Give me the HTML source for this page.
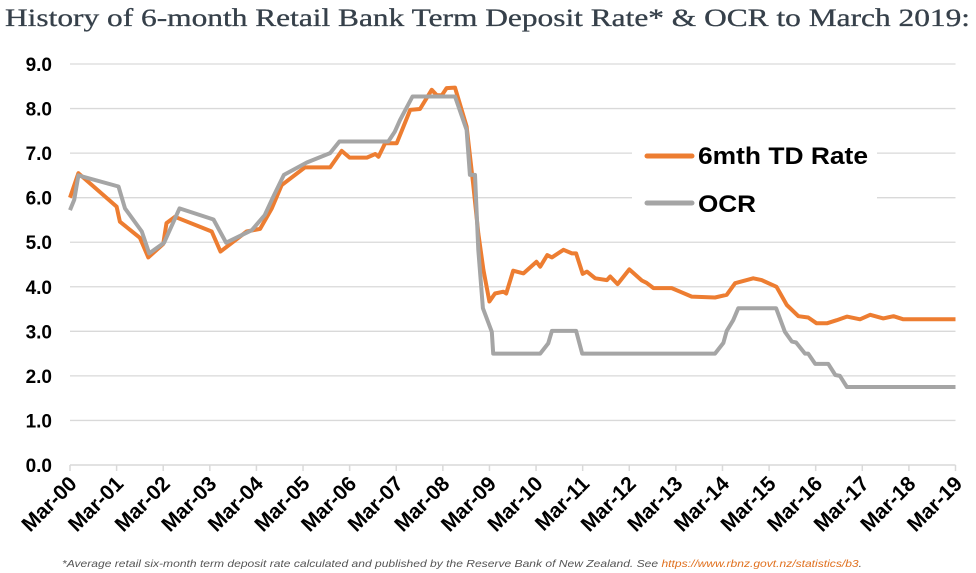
<!DOCTYPE html>
<html><head><meta charset="utf-8"><style>
html,body{margin:0;padding:0;background:#fff;}
svg{display:block;}
</style></head><body>
<svg id="chart" width="976" height="573" viewBox="0 0 976 573" xmlns="http://www.w3.org/2000/svg">
<text x="5" y="26" font-family="'Liberation Serif', serif" font-size="25" fill="#36404a" textLength="965" lengthAdjust="spacingAndGlyphs" stroke="#36404a" stroke-width="0.3">History of 6-month Retail Bank Term Deposit Rate* &amp; OCR to March 2019:</text>
<g id="grid"></g>
<g id="yaxis"></g>
<g id="xaxis"></g>
<g id="series"></g>
<g>
<rect x="632" y="130" width="245" height="92" fill="#fff"/>
<line x1="647" y1="156" x2="692" y2="156" stroke="#ed7d31" stroke-width="5" stroke-linecap="round"/>
<text x="698" y="164" font-family="'Liberation Sans', sans-serif" font-weight="bold" font-size="24" fill="#000" textLength="170" lengthAdjust="spacingAndGlyphs">6mth TD Rate</text>
<line x1="647" y1="203" x2="692" y2="203" stroke="#a5a5a5" stroke-width="5" stroke-linecap="round"/>
<text x="698" y="212" font-family="'Liberation Sans', sans-serif" font-weight="bold" font-size="24" fill="#000" textLength="58" lengthAdjust="spacingAndGlyphs">OCR</text>
</g>
<text x="62" y="567" font-family="'Liberation Sans', sans-serif" font-style="italic" font-size="10.5" fill="#555" textLength="800" lengthAdjust="spacingAndGlyphs">*Average retail six-month term deposit rate calculated and published by the Reserve Bank of New Zealand. See <tspan fill="#e0701e">https://www.rbnz.govt.nz/statistics/b3</tspan>.</text>
</svg>
<script>
const xLabels = ["Mar-00","Mar-01","Mar-02","Mar-03","Mar-04","Mar-05","Mar-06","Mar-07","Mar-08","Mar-09","Mar-10","Mar-11","Mar-12","Mar-13","Mar-14","Mar-15","Mar-16","Mar-17","Mar-18","Mar-19"];
const yTicks = [0,1,2,3,4,5,6,7,8,9];
const tdYears = [0,0.18,1.0,1.07,1.5,1.68,2.0,2.07,2.25,3.04,3.23,3.79,4.08,4.33,4.54,5.04,5.58,5.83,6.0,6.37,6.55,6.62,6.76,7.01,7.3,7.51,7.76,7.87,7.98,8.08,8.26,8.51,8.65,8.76,8.87,9.0,9.12,9.3,9.36,9.51,9.73,10.01,10.09,10.24,10.34,10.59,10.77,10.86,11.0,11.09,11.27,11.52,11.59,11.75,12.0,12.27,12.37,12.52,12.91,13.09,13.34,13.84,14.09,14.27,14.66,14.84,15.16,15.38,15.63,15.84,16.02,16.24,16.45,16.67,16.95,17.17,17.45,17.67,17.88,18.1,19.0];
const tdValues = [6.0,6.55,5.8,5.46,5.1,4.66,4.96,5.43,5.57,5.24,4.79,5.24,5.3,5.76,6.28,6.68,6.68,7.05,6.9,6.9,6.98,6.92,7.22,7.22,7.97,7.99,8.42,8.3,8.3,8.46,8.47,7.6,6.32,5.2,4.38,3.67,3.85,3.89,3.85,4.36,4.3,4.56,4.45,4.71,4.66,4.83,4.75,4.75,4.29,4.34,4.19,4.15,4.23,4.06,4.39,4.14,4.09,3.97,3.97,3.89,3.78,3.76,3.82,4.08,4.19,4.15,4.0,3.59,3.34,3.31,3.18,3.18,3.25,3.33,3.27,3.37,3.29,3.34,3.27,3.27,3.27];
const ocrYears = [0,0.09,0.18,1.04,1.18,1.54,1.7,2.02,2.35,3.08,3.35,3.9,4.18,4.36,4.59,5.08,5.58,5.78,6.83,6.97,7.08,7.35,8.26,8.51,8.58,8.69,8.76,8.86,9.05,9.08,10.09,10.26,10.34,10.86,10.99,13.84,14.02,14.09,14.23,14.34,15.15,15.34,15.49,15.58,15.77,15.84,15.99,16.27,16.42,16.52,16.67,19.0];
const ocrValues = [5.72,5.95,6.5,6.25,5.76,5.24,4.75,4.99,5.76,5.51,4.99,5.27,5.61,6.02,6.51,6.79,7.0,7.26,7.26,7.48,7.74,8.27,8.27,7.52,6.51,6.51,4.83,3.52,2.99,2.5,2.5,2.73,3.01,3.01,2.5,2.5,2.74,3.01,3.25,3.52,3.52,2.99,2.77,2.75,2.5,2.5,2.27,2.27,2.02,2.0,1.75,1.75];

const NS="http://www.w3.org/2000/svg";
const X0=70,X1=955.5,Y0=465,Y1=64;
const xs=t=>X0+t*(X1-X0)/(xLabels.length-1);
const ys=v=>Y0-v*(Y0-Y1)/9;
function mk(tag,attrs,parent){const e=document.createElementNS(NS,tag);for(const k in attrs)e.setAttribute(k,attrs[k]);parent.appendChild(e);return e;}
const grid=document.getElementById('grid'),yax=document.getElementById('yaxis'),xax=document.getElementById('xaxis'),ser=document.getElementById('series');
yTicks.forEach(v=>{
  if(v>0){const l=mk('line',{x1:X0,x2:X1,y1:ys(v),y2:ys(v),stroke:'#d9d9d9','stroke-width':1.3},grid);
  
  }
  const t=mk('text',{x:52,y:ys(v)+7,'text-anchor':'end','font-family':"'Liberation Sans', sans-serif",'font-weight':'bold','font-size':19,fill:'#000'},yax);
  t.textContent=v.toFixed(1);
  
  
});
const ax=mk('line',{x1:X0,x2:X1,y1:Y0,y2:Y0,stroke:'#d9d9d9','stroke-width':1.5},xax);


xLabels.forEach((s,i)=>{
  const x=xs(i);
  const tk=mk('line',{x1:x,x2:x,y1:Y0,y2:Y0+6,stroke:'#d9d9d9','stroke-width':1.5},xax);
  
  
  const t=mk('text',{x:x+8,y:Y0+20,'text-anchor':'end','font-family':"'Liberation Sans', sans-serif",'font-weight':'bold','font-size':21,fill:'#000',transform:`rotate(-45 ${x+8} ${Y0+20})`},xax);
  t.textContent=s;
  
  
});
function line(xsArr,vals,color,name){
  const d=xsArr.map((t,i)=>(i?'L':'M')+xs(t).toFixed(1)+' '+ys(vals[i]).toFixed(1)).join(' ');
  const p=mk('path',{d:d,fill:'none',stroke:color,'stroke-width':4,'stroke-linejoin':'round'},ser);
  
  
}
line(tdYears,tdValues,'#ed7d31','td-rate-line');
line(ocrYears,ocrValues,'#a5a5a5','ocr-line');
</script>
</body></html>
